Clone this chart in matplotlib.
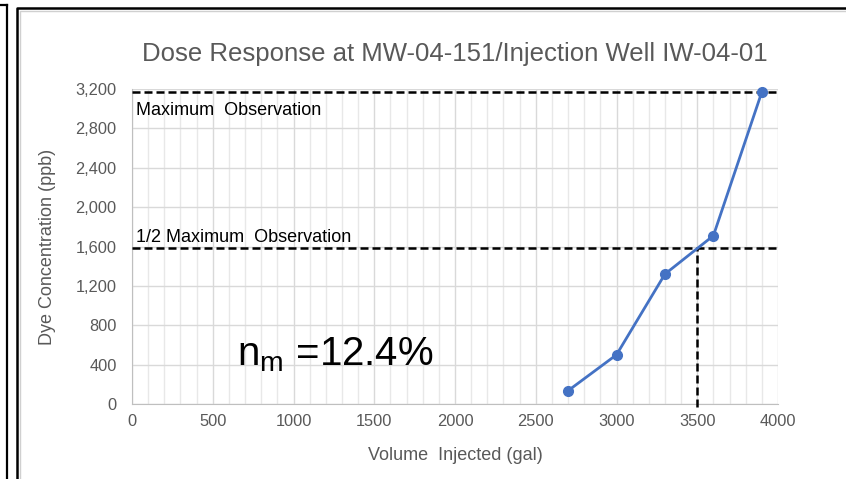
import matplotlib.pyplot as plt
from matplotlib.lines import Line2D
from matplotlib.ticker import MultipleLocator, FuncFormatter

plt.rcParams['font.family'] = ['Liberation Sans', 'DejaVu Sans']
plt.rcParams['mathtext.default'] = 'regular'

# donnees
volume = [2700, 3000, 3300, 3600, 3900]
concentration = [135, 500, 1320, 1710, 3170]
max_obs = 3170
half_obs = 1585
half_volume = 3500

title = "Dose Response at MW-04-151/Injection Well IW-04-01"
x_label = "Volume  Injected (gal)"
y_label = "Dye Concentration (ppb)"

W, H = 846, 479
fig = plt.figure(figsize=(W / 100, H / 100), dpi=100)
ax = fig.add_axes([132 / W, 1 - 404 / H, (778 - 132) / W, (404 - 89) / H])

grey_text = "#595959"

# grille: verticales tous les 100, plus foncees tous les 500
ax.set_xlim(0, 4000)
ax.set_ylim(0, 3200)
ax.xaxis.set_major_locator(MultipleLocator(500))
ax.xaxis.set_minor_locator(MultipleLocator(100))
ax.yaxis.set_major_locator(MultipleLocator(400))
ax.grid(which='minor', axis='x', color='#E8E8E8', lw=1)
ax.grid(which='major', color='#D9D9D9', lw=1)
ax.set_axisbelow(True)
ax.yaxis.set_major_formatter(FuncFormatter(lambda v, p: f"{int(v):,}"))

for side in ['top', 'right']:
	ax.spines[side].set_visible(False)
for side in ['left', 'bottom']:
	ax.spines[side].set_color('#BFBFBF')
ax.tick_params(which='both', length=0, labelsize=11.8, labelcolor=grey_text)
ax.tick_params(axis='y', pad=11)
ax.tick_params(axis='x', pad=7)

# lignes pointillees
dash = (0, (3.2, 1.6))
ax.plot([0, 4000], [max_obs, max_obs], color='black', lw=1.8, linestyle=dash, clip_on=False, zorder=3)
ax.plot([0, 4000], [half_obs, half_obs], color='black', lw=1.8, linestyle=dash, clip_on=False, zorder=3)
ax.plot([half_volume, half_volume], [-30, half_obs], color='black', lw=1.8, linestyle=dash, clip_on=False, zorder=3)

# courbe dose-reponse
ax.plot(volume, concentration, color='#4472C4', lw=2, marker='o', markersize=7, zorder=4, clip_on=False)

ax.text(25, 2940, "Maximum  Observation", fontsize=13, color='black', va='baseline')
ax.text(25, 1650, "1/2 Maximum  Observation", fontsize=13, color='black', va='baseline')
ax.text(650, 390, r"$n_m$ =12.4%", fontsize=29, color='black', va='baseline')

ax.set_title(title, fontsize=18.5, color=grey_text, pad=20)
ax.set_xlabel(x_label, fontsize=13, color=grey_text, labelpad=13)
ax.set_ylabel(y_label, fontsize=13, color=grey_text, labelpad=14)

# cadres noirs autour de l'image
def px(x, y):
	return x / W, 1 - y / H

fig.add_artist(Line2D(*zip(px(0, 5), px(7, 5)), color='black', lw=1.6))
fig.add_artist(Line2D(*zip(px(7, 5), px(7, 479)), color='black', lw=1.6))
fig.add_artist(Line2D(*zip(px(17, 479), px(17, 8), px(846, 8)), color='black', lw=1.8))
fig.add_artist(Line2D(*zip(px(19.5, 479), px(19.5, 10.5), px(846, 10.5)), color='#D0D0D0', lw=1))

fig.savefig("out.png", dpi=100)
